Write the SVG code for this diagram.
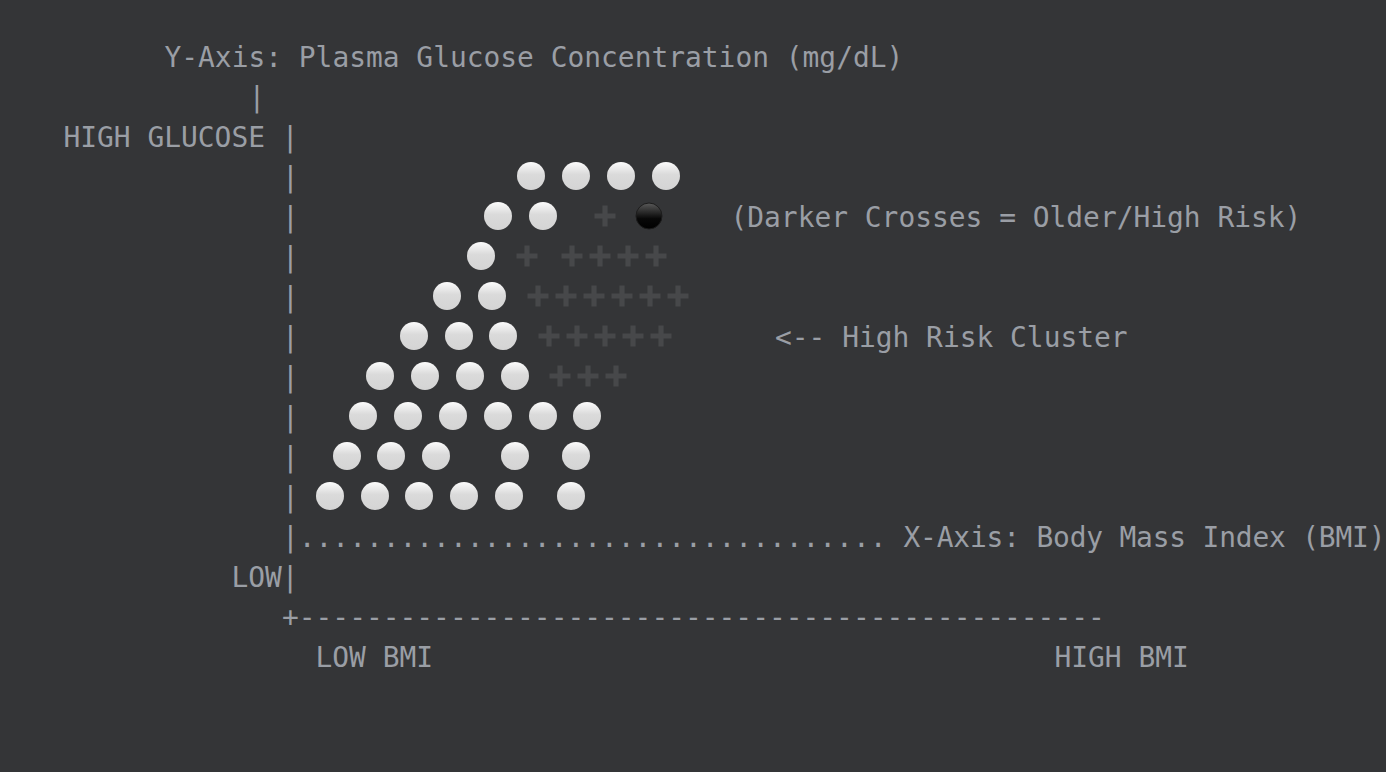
<svg xmlns="http://www.w3.org/2000/svg" width="1386" height="772" viewBox="0 0 1386 772">
<style>
text{font-family:"DejaVu Sans Mono","Liberation Mono",monospace;font-size:27.9px;fill:#9a9ea5;white-space:pre}
</style>
<defs>
<linearGradient id="w" x1="0" y1="0" x2="0" y2="1"><stop offset="0" stop-color="#fcfcfc"/><stop offset=".45" stop-color="#dadada"/><stop offset="1" stop-color="#d4d4d4"/></linearGradient>
<linearGradient id="b" x1="0" y1="0" x2="0" y2="1"><stop offset="0" stop-color="#5a5a5a"/><stop offset=".6" stop-color="#080808"/><stop offset="1" stop-color="#000"/></linearGradient>
<circle id="c" r="14" fill="url(#w)"/>
<path id="p" d="M-2.6-10.5h5.2v7.9h7.9v5.2h-7.9v7.9h-5.2v-7.9h-7.9v-5.2h7.9z" fill="#47484a"/>
</defs>
<rect width="1386" height="772" fill="#343537"/>
<g id="labels">
<text x="164.5" y="67">Y-Axis: Plasma Glucose Concentration (mg/dL)</text>
<text x="248.5" y="107">|</text>
<text x="63.5" y="147">HIGH GLUCOSE |</text>
<text x="282" y="187">|</text><text x="282" y="227">|</text><text x="282" y="267">|</text><text x="282" y="307">|</text><text x="282" y="347">|</text><text x="282" y="387">|</text><text x="282" y="427">|</text><text x="282" y="467">|</text><text x="282" y="507">|</text>
<text x="282" y="547">|...................................</text>
<text x="903.5" y="547" textLength="482" lengthAdjust="spacing">X-Axis: Body Mass Index (BMI)</text>
<text x="231.5" y="587">LOW|</text>
<text x="282" y="627">+------------------------------------------------</text>
<text x="315.5" y="667">LOW BMI</text>
<text x="1054.5" y="667">HIGH BMI</text>
<text x="730.5" y="227">(Darker Crosses = Older/High Risk)</text>
<text x="775" y="347">&lt;-- High Risk Cluster</text>
</g>
<g id="dots">
<use href="#c" x="531" y="176"/><use href="#c" x="576" y="176"/><use href="#c" x="621" y="176"/><use href="#c" x="666" y="176"/>
<use href="#c" x="498" y="216"/><use href="#c" x="543" y="216"/>
<circle cx="649" cy="216" r="13" fill="url(#b)" stroke="#1c1c1c" stroke-width="1"/>
<use href="#c" x="481" y="256"/>
<use href="#c" x="447" y="296"/><use href="#c" x="492" y="296"/>
<use href="#c" x="414" y="336"/><use href="#c" x="459" y="336"/><use href="#c" x="503" y="336"/>
<use href="#c" x="380" y="376"/><use href="#c" x="425" y="376"/><use href="#c" x="470" y="376"/><use href="#c" x="515" y="376"/>
<use href="#c" x="363" y="416"/><use href="#c" x="408" y="416"/><use href="#c" x="453" y="416"/><use href="#c" x="498" y="416"/><use href="#c" x="543" y="416"/><use href="#c" x="587" y="416"/>
<use href="#c" x="347" y="456"/><use href="#c" x="391" y="456"/><use href="#c" x="436" y="456"/><use href="#c" x="515" y="456"/><use href="#c" x="576" y="456"/>
<use href="#c" x="330" y="496"/><use href="#c" x="375" y="496"/><use href="#c" x="419" y="496"/><use href="#c" x="464" y="496"/><use href="#c" x="509" y="496"/><use href="#c" x="571" y="496"/>
</g>
<g id="crosses">
<use href="#p" x="605" y="216"/>
<use href="#p" x="527" y="256"/><use href="#p" x="572" y="256"/><use href="#p" x="600" y="256"/><use href="#p" x="628" y="256"/><use href="#p" x="656" y="256"/>
<use href="#p" x="538" y="296"/><use href="#p" x="566" y="296"/><use href="#p" x="594" y="296"/><use href="#p" x="622" y="296"/><use href="#p" x="650" y="296"/><use href="#p" x="678" y="296"/>
<use href="#p" x="549" y="336"/><use href="#p" x="577" y="336"/><use href="#p" x="605" y="336"/><use href="#p" x="633" y="336"/><use href="#p" x="661" y="336"/>
<use href="#p" x="560" y="376"/><use href="#p" x="588" y="376"/><use href="#p" x="616" y="376"/>
</g>
</svg>
